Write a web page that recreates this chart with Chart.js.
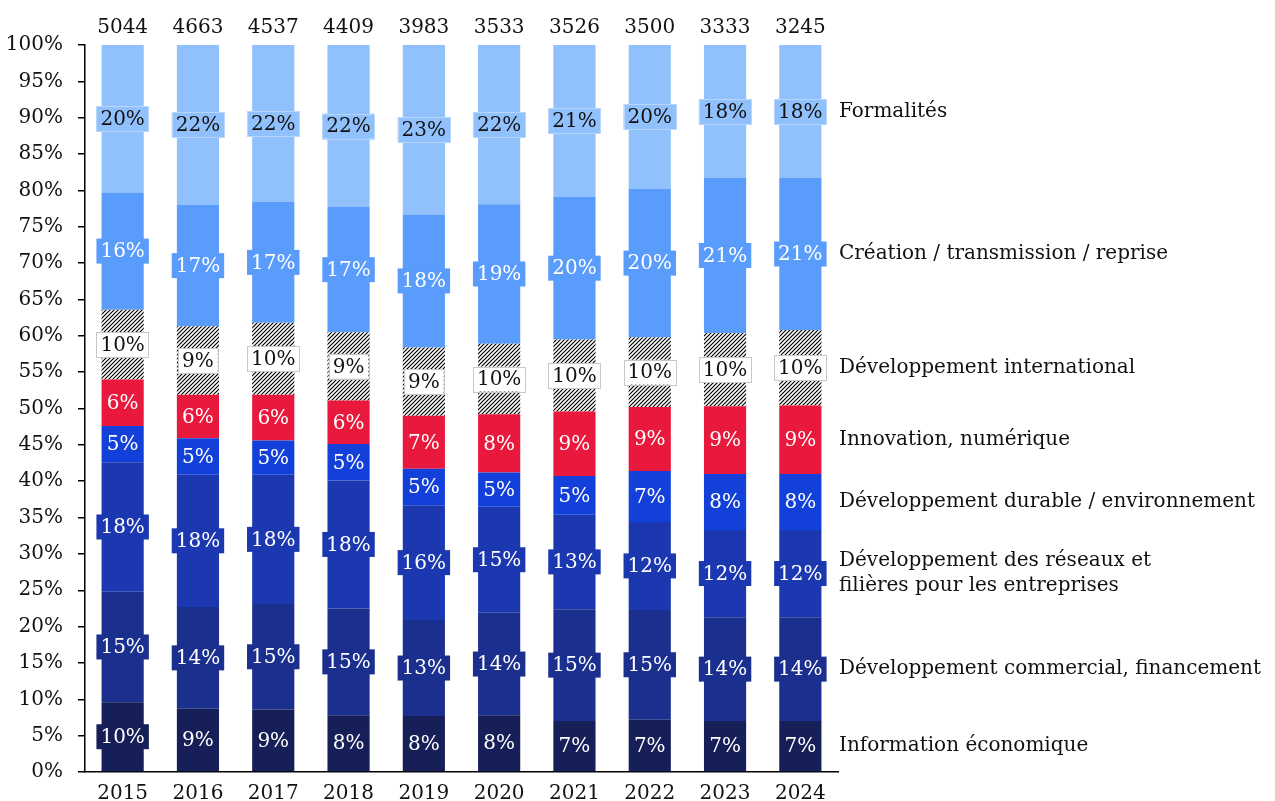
<!DOCTYPE html>
<html lang="fr">
<head>
<meta charset="utf-8">
<title>Répartition des demandes par thème</title>
<script src="https://cdn.jsdelivr.net/npm/chart.js@4/dist/chart.umd.min.js"></script>
<style>
  html, body { margin: 0; padding: 0; background: #fff; }
  #wrap { width: 1275px; height: 801px; }
</style>
</head>
<body>
<div id="wrap"><canvas id="chart" width="1275" height="801"></canvas></div>
<script>
/* stacked 100% bars, one per year; share of requests by theme */

var years = ["2015", "2016", "2017", "2018", "2019", "2020", "2021", "2022", "2023", "2024"];
var totals = [5044, 4663, 4537, 4409, 3983, 3533, 3526, 3500, 3333, 3245];

// shares in %, bottom of the stack first
var infoEco = [9.6, 8.7, 8.6, 7.8, 7.7, 7.8, 7.0, 7.2, 7.0, 7.0];
var devCommercial = [15.2, 14.0, 14.5, 14.7, 13.2, 14.1, 15.4, 15.1, 14.3, 14.3];
var reseaux = [17.8, 18.2, 17.8, 17.6, 15.8, 14.6, 13.0, 12.1, 12.0, 12.0];
var durable = [5.0, 5.0, 4.7, 5.0, 5.0, 4.7, 5.3, 7.0, 7.7, 7.7];
var innovation = [6.4, 6.0, 6.3, 6.0, 7.3, 8.0, 8.9, 8.8, 9.3, 9.4];
var international = [9.6, 9.4, 9.9, 9.4, 9.4, 9.7, 9.9, 9.6, 10.1, 10.4];
var creation = [16.1, 16.7, 16.6, 17.2, 18.3, 19.2, 19.6, 20.4, 21.3, 20.9];
var formalites = [20.3, 22.0, 21.6, 22.3, 23.3, 21.9, 20.9, 19.8, 18.3, 18.3];

var seriesNames = [
  "Information économique",
  "Développement commercial, financement",
  ["Développement des réseaux et", "filières pour les entreprises"],
  "Développement durable / environnement",
  "Innovation, numérique",
  "Développement international",
  "Création / transmission / reprise",
  "Formalités"
];
var yTicks = [0, 5, 10, 15, 20, 25, 30, 35, 40, 45, 50, 55, 60, 65, 70, 75, 80, 85, 90, 95, 100];

(function () {
  "use strict";

  var FONT = "'DejaVu Serif', 'Liberation Serif', serif";
  var SIZE = 20;
  var INK = "#111";

  function hatch() {
    var p = document.createElement("canvas");
    p.width = 4; p.height = 4;
    var g = p.getContext("2d");
    g.fillStyle = "#fff";
    g.fillRect(0, 0, 4, 4);
    g.strokeStyle = "#000";
    g.lineWidth = 1.2;
    g.beginPath();
    g.moveTo(0, 4); g.lineTo(4, 0);
    g.moveTo(-1, 1); g.lineTo(1, -1);
    g.moveTo(3, 5); g.lineTo(5, 3);
    g.stroke();
    return g.createPattern(p, "repeat");
  }

  var ctx0 = document.getElementById("chart").getContext("2d");

  var series = [
    { data: infoEco, fill: "#161f58", text: "#fff", box: null },
    { data: devCommercial, fill: "#1b2f8e", text: "#fff", box: null },
    { data: reseaux, fill: "#1b38b0", text: "#fff", box: null },
    { data: durable, fill: "#1440da", text: "#fff", box: null },
    { data: innovation, fill: "#e8193d", text: "#fff", box: null },
    { data: international, fill: hatch(), text: "#111", box: "#fff", edge: "#c8c8c8" },
    { data: creation, fill: "#5a9cfb", text: "#fff", box: null },
    { data: formalites, fill: "#91c1fc", text: "#111", box: null, edge: "#b9d6fb" }
  ];

  var datasets = series.map(function (s, i) {
    return {
      label: Array.isArray(seriesNames[i]) ? seriesNames[i].join(" ") : seriesNames[i],
      data: s.data,
      backgroundColor: s.fill,
      borderWidth: 0,
      barPercentage: 0.56,
      categoryPercentage: 1
    };
  });

  function boxFill(s) {
    return s.box || s.fill;
  }

  // value labels in small boxes, centred on each segment
  var segLabels = {
    id: "segLabels",
    afterDatasetsDraw: function (chart) {
      var ctx = chart.ctx;
      ctx.save();
      ctx.font = SIZE + "px " + FONT;
      ctx.textAlign = "center";
      ctx.textBaseline = "middle";
      series.forEach(function (s, di) {
        var meta = chart.getDatasetMeta(di);
        meta.data.forEach(function (bar, i) {
          var txt = Math.round(s.data[i]) + "%";
          var cy = (bar.y + bar.base) / 2;
          var w = ctx.measureText(txt).width + 8;
          var h = 25;
          ctx.fillStyle = boxFill(s);
          ctx.fillRect(bar.x - w / 2, cy - h / 2, w, h);
          if (s.edge) {
            ctx.strokeStyle = s.edge;
            ctx.lineWidth = 1;
            ctx.strokeRect(Math.round(bar.x - w / 2) + 0.5, Math.round(cy - h / 2) + 0.5, Math.round(w), h);
          }
          ctx.fillStyle = s.text;
          ctx.fillText(txt, bar.x, cy + 1);
        });
      });
      ctx.restore();
    }
  };

  // totals above each bar + series names beside the last bar
  var annotations = {
    id: "annotations",
    afterDraw: function (chart) {
      var ctx = chart.ctx;
      var area = chart.chartArea;
      ctx.save();
      ctx.font = SIZE + "px " + FONT;
      ctx.fillStyle = INK;
      ctx.textAlign = "center";
      ctx.textBaseline = "middle";
      var first = chart.getDatasetMeta(0);
      first.data.forEach(function (bar, i) {
        ctx.fillText(String(totals[i]), bar.x, area.top - 17);
      });
      ctx.textAlign = "left";
      seriesNames.forEach(function (name, di) {
        var meta = chart.getDatasetMeta(di);
        var bar = meta.data[meta.data.length - 1];
        var cy = (bar.y + bar.base) / 2;
        var lines = Array.isArray(name) ? name : [name];
        var lh = 25;
        lines.forEach(function (ln, k) {
          ctx.fillText(ln, area.right + 1, cy + (k - (lines.length - 1) / 2) * lh);
        });
      });
      ctx.restore();
    }
  };

  new Chart(ctx0, {
    type: "bar",
    data: { labels: years, datasets: datasets },
    options: {
      responsive: false,
      animation: false,
      events: [],
      layout: { padding: { top: 45, right: 437, bottom: 0, left: 8 } },
      plugins: { legend: { display: false }, tooltip: { enabled: false } },
      scales: {
        x: {
          stacked: true,
          grid: { display: false, drawTicks: false },
          border: { display: true, color: "#000", width: 1.5 },
          ticks: { color: INK, font: { family: FONT, size: SIZE }, padding: 10, maxRotation: 0 },
          afterFit: function (axis) { axis.height = 29; }
        },
        y: {
          stacked: true,
          min: 0, max: 100,
          afterBuildTicks: function (axis) {
            axis.ticks = yTicks.map(function (v) { return { value: v }; });
          },
          grid: { drawOnChartArea: false, drawTicks: true, tickLength: 7, color: "#000", lineWidth: 1.5 },
          border: { display: true, color: "#000", width: 1.5 },
          ticks: {
            color: INK, font: { family: FONT, size: SIZE }, padding: 15,
            callback: function (v) { return v + "%"; }
          },
          afterFit: function (axis) { axis.width = 77; }
        }
      }
    },
    plugins: [segLabels, annotations]
  });
})();
</script>
</body>
</html>
